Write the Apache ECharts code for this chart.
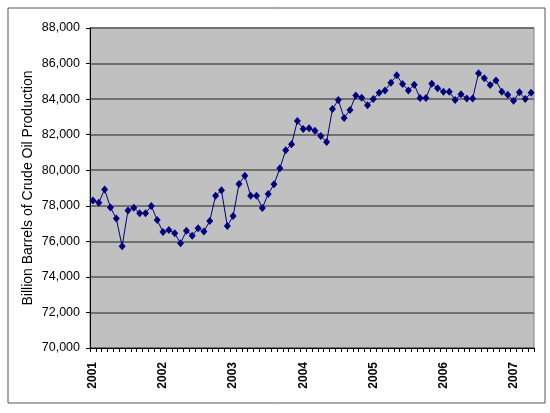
<!DOCTYPE html>
<html>
<head>
<meta charset="utf-8">
<script src="https://cdn.jsdelivr.net/npm/echarts@6/dist/echarts.min.js"></script>
<style>
html,body{margin:0;padding:0;background:#fff;}
#c{width:550px;height:413px;}
</style>
</head>
<body>
<div id="c"></div>
<script>
// Monthly categories Jan 2001 .. Apr 2007
const years = ['2001','2002','2003','2004','2005','2006','2007'];
const months = [];
for (let i = 0; i < 76; i++) {
  const y = 2001 + Math.floor(i / 12);
  const m = (i % 12) + 1;
  months.push(y + '-' + (m < 10 ? '0' + m : m));
}
const production = [
  78300, 78170, 78920, 77910, 77280, 75720, 77740, 77890, 77580, 77580, 77990, 77200,
  76520, 76640, 76450, 75890, 76600, 76320, 76730, 76560, 77140, 78570, 78870, 76860,
  77420, 79220, 79690, 78570, 78570, 77870, 78660, 79210, 80110, 81120, 81460, 82770,
  82320, 82360, 82220, 81920, 81590, 83440, 83950, 82940, 83390, 84210, 84080, 83650,
  84000, 84360, 84490, 84920, 85340, 84850, 84490, 84810, 84060, 84060, 84870, 84610,
  84420, 84420, 83950, 84270, 84040, 84040, 85450, 85170, 84790, 85040, 84420, 84250,
  83910, 84380, 84000, 84360
];
const yTicks = { min: 70000, max: 88000, interval: 2000 };

const chart = echarts.init(document.getElementById('c'));
chart.setOption({
  animation: false,
  backgroundColor: '#ffffff',
  textStyle: { fontFamily: 'Liberation Sans, Arial, sans-serif' },
  graphic: [{
    type: 'rect', left: 5.5, top: 5.5,
    shape: { width: 537, height: 395 },
    style: { fill: 'none', stroke: '#555', lineWidth: 1 },
    silent: true
  }],
  grid: {
    left: 90, right: 16, top: 28, bottom: 65,
    show: true, backgroundColor: '#C0C0C0', borderColor: '#808080', borderWidth: 1
  },
  xAxis: {
    type: 'category',
    data: months,
    boundaryGap: true,
    axisLine: { lineStyle: { color: '#000', width: 1 } },
    axisTick: { show: true, interval: 0, length: 4, inside: false, lineStyle: { color: '#000' } },
    axisLabel: {
      interval: function (idx) { return idx % 12 === 0; },
      formatter: function (v) { return v.slice(0, 4); },
      rotate: 90, color: '#000', fontSize: 12, fontWeight: 'bold', margin: 14
    },
    splitLine: { show: false }
  },
  yAxis: {
    type: 'value',
    min: yTicks.min, max: yTicks.max, interval: yTicks.interval,
    name: 'Billion Barrels of Crude Oil Production',
    nameLocation: 'middle', nameRotate: 90, nameGap: 55,
    nameMoveOverlap: false,
    nameTextStyle: { color: '#000', fontSize: 14 },
    axisLine: { show: true, lineStyle: { color: '#000', width: 1 } },
    axisTick: { show: true, length: 4, lineStyle: { color: '#000' } },
    axisLabel: {
      color: '#000', fontSize: 12.5, margin: 10,
      formatter: function (v) { return v.toLocaleString('en-US'); }
    },
    splitLine: { show: true, lineStyle: { color: '#707070', width: 2 } }
  },
  series: [{
    type: 'line',
    data: production,
    symbol: 'diamond',
    symbolSize: [7, 8],
    showAllSymbol: true,
    lineStyle: { color: '#000080', width: 1 },
    itemStyle: { color: '#000080' }
  }]
});
</script>
</body>
</html>
